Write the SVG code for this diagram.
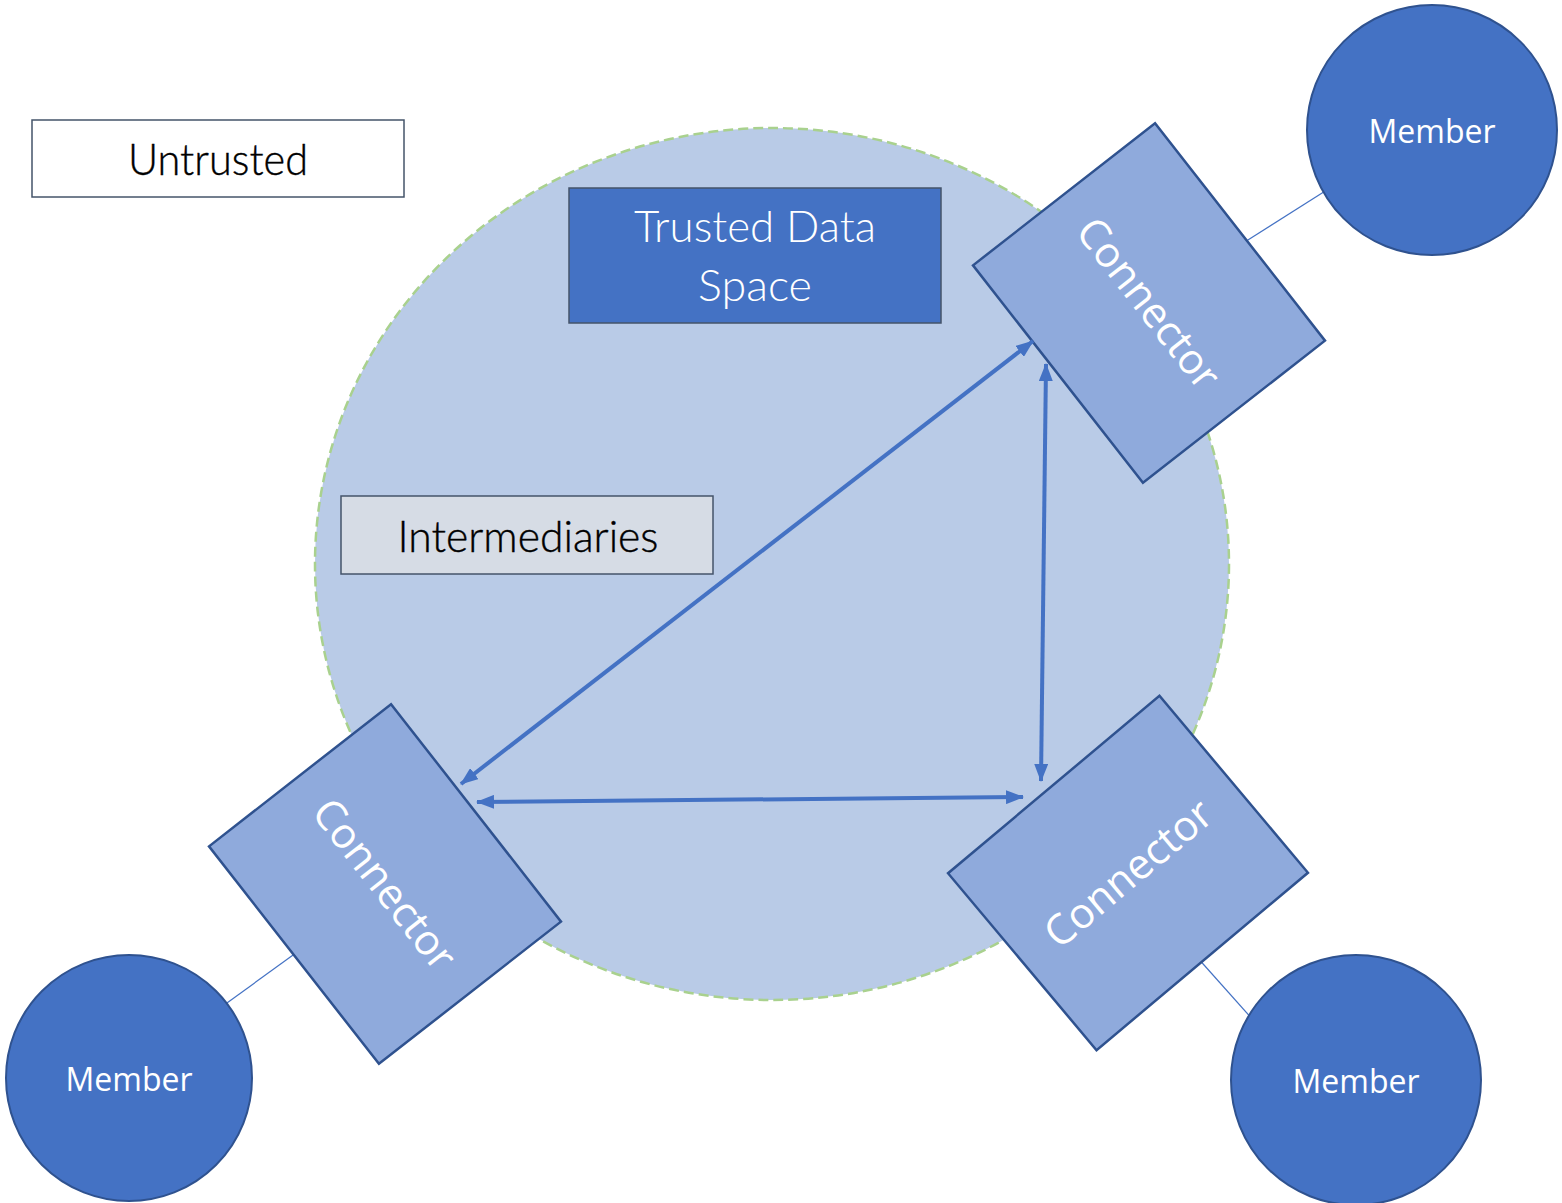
<svg xmlns="http://www.w3.org/2000/svg" width="1562" height="1203" viewBox="0 0 1562 1203">
  <style>
    .space { fill: #B9CBE7; stroke: #A9D18E; stroke-width: 2.5; stroke-dasharray: 10 5; }
    .conn { fill: #8FAADC; stroke: #2F528F; stroke-width: 2.5; }
    .member { fill: #4472C4; stroke: #2F528F; stroke-width: 2; }
    .link { stroke: #4472C4; stroke-width: 1.2; fill: none; }
    .arrow { stroke: #4472C4; stroke-width: 4; fill: none; marker-start: url(#arr); marker-end: url(#arr); }
    .title { font-family: "Lato", "Open Sans", "Liberation Sans", sans-serif; font-weight: 300; font-size: 44px; text-anchor: middle; }
    .lbl { font-family: "Open Sans", "Liberation Sans", sans-serif; fill: #FFFFFF; text-anchor: middle; }
  </style>
  <defs>
    <marker id="arr" viewBox="0 0 18 14" refX="17" refY="7" markerWidth="18" markerHeight="14" markerUnits="userSpaceOnUse" orient="auto-start-reverse">
      <path d="M0,0 L18,7 L0,14 z" fill="#4472C4"/>
    </marker>
  </defs>
  <rect width="1562" height="1203" fill="#FFFFFF"/>

  <g id="trusted-space">
    <ellipse class="space" cx="772" cy="564" rx="457" ry="436"/>
  </g>

  <g id="untrusted">
    <rect x="32" y="120" width="372" height="77" fill="#FFFFFF" stroke="#44546A" stroke-width="1.5"/>
    <text class="title" x="218" y="175" fill="#000000" stroke="#000000" stroke-width="0.4" textLength="180" lengthAdjust="spacingAndGlyphs">Untrusted</text>
  </g>

  <g id="trusted-data-space">
    <rect x="569" y="188" width="372" height="135" fill="#4472C4" stroke="#44546A" stroke-width="1.5"/>
    <text class="title" x="755" y="242" fill="#FFFFFF" textLength="242" lengthAdjust="spacingAndGlyphs">Trusted Data</text>
    <text class="title" x="755" y="301" fill="#FFFFFF" textLength="114" lengthAdjust="spacingAndGlyphs">Space</text>
  </g>

  <g id="intermediaries">
    <rect x="341" y="496" width="372" height="78" fill="#D6DCE5" stroke="#44546A" stroke-width="1.5"/>
    <text class="title" x="528" y="552" fill="#000000" stroke="#000000" stroke-width="0.4" textLength="261" lengthAdjust="spacingAndGlyphs">Intermediaries</text>
  </g>

  <g id="member-links">
    <line class="link" x1="1240" y1="245" x2="1330" y2="188"/>
    <line class="link" x1="220" y1="1008" x2="300" y2="950"/>
    <line class="link" x1="1196" y1="956" x2="1254" y2="1021"/>
  </g>

  <g id="connector-top-right" transform="translate(1149,303) rotate(52)">
    <rect class="conn" x="-138" y="-115.5" width="276" height="231"/>
    <text class="lbl" x="0" y="15" font-size="42">Connector</text>
  </g>

  <g id="connector-bottom-left" transform="translate(385,884) rotate(52)">
    <rect class="conn" x="-138" y="-115.5" width="276" height="231"/>
    <text class="lbl" x="0" y="15" font-size="42">Connector</text>
  </g>

  <g id="connector-bottom-right" transform="translate(1128,873) rotate(-40)">
    <rect class="conn" x="-138" y="-115.5" width="276" height="231"/>
    <text class="lbl" x="0" y="15" font-size="42">Connector</text>
  </g>

  <g id="member-top-right">
    <circle class="member" cx="1432" cy="130" r="125"/>
    <text class="lbl" x="1432" y="143" font-size="32">Member</text>
  </g>

  <g id="member-bottom-left">
    <circle class="member" cx="129" cy="1078" r="123"/>
    <text class="lbl" x="129" y="1091" font-size="32">Member</text>
  </g>

  <g id="member-bottom-right">
    <circle class="member" cx="1356" cy="1080" r="125"/>
    <text class="lbl" x="1356" y="1093" font-size="32">Member</text>
  </g>

  <g id="connectors">
    <line class="arrow" x1="1033" y1="341" x2="461" y2="784"/>
    <line class="arrow" x1="1046" y1="364" x2="1041" y2="781"/>
    <line class="arrow" x1="477" y1="802" x2="1023" y2="797"/>
  </g>
</svg>
